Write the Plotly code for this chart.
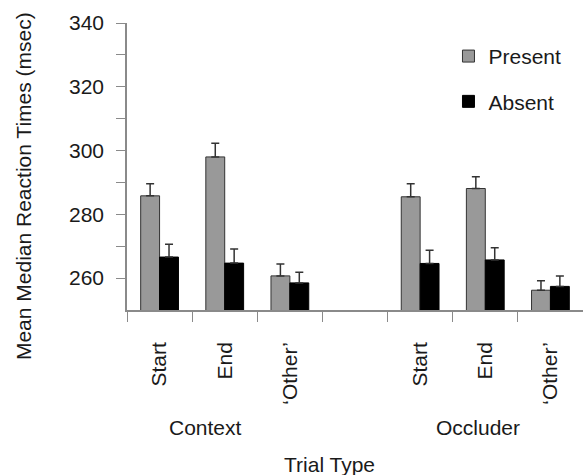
import plotly.graph_objects as go

# Categories (7 slots; the 4th is an empty spacer)
categories = ["Start", "End", "\u2018Other\u2019", " ", "Start\u200b", "End\u200b", "\u2018Other\u2019\u200b"]
tick_text = ["Start", "End", "\u2018Other\u2019", "", "Start", "End", "\u2018Other\u2019"]

present_x = ["Start", "End", "\u2018Other\u2019", "Start\u200b", "End\u200b", "\u2018Other\u2019\u200b"]
present_vals = [285.8, 298.0, 260.7, 285.5, 288.1, 256.2]
present_err = [3.8, 4.3, 3.7, 4.1, 3.7, 3.0]

absent_vals = [266.6, 264.7, 258.5, 264.6, 265.7, 257.4]
absent_err = [4.0, 4.4, 3.3, 4.1, 3.8, 3.3]

y_tickvals = [260, 270, 280, 290, 300, 310, 320, 330, 340]
y_ticktext = ["260", "", "280", "", "300", "", "320", "", "340"]

FONT = "Liberation Sans, Arial, Helvetica, sans-serif"
AXIS_COLOR = "#8a8a8a"
FS = 21

fig = go.Figure()
fig.add_trace(go.Bar(
    x=present_x, y=present_vals, name="Present", legendgroup="p",
    marker=dict(color="#999999", line=dict(color="#333333", width=1)),
    error_y=dict(type="data", symmetric=False, array=present_err,
                 arrayminus=[0] * len(present_err),
                 color="#333333", thickness=1.5, width=4),
))
fig.add_trace(go.Bar(
    x=present_x, y=absent_vals, name="Absent", legendgroup="a",
    marker=dict(color="#000000", line=dict(color="#000000", width=1)),
    error_y=dict(type="data", symmetric=False, array=absent_err,
                 arrayminus=[0] * len(absent_err),
                 color="#333333", thickness=1.5, width=4),
))

fig.update_layout(
    width=583, height=475,
    margin=dict(l=127, r=0, t=23, b=165),
    paper_bgcolor="white", plot_bgcolor="white",
    font=dict(family=FONT, size=FS, color="#1a1a1a"),
    barmode="group", bargap=0.42, bargroupgap=0,
    showlegend=True,
    legend=dict(x=0.705, y=0.955, xanchor="left", yanchor="top",
                font=dict(size=FS), tracegroupgap=15,
                bgcolor="rgba(0,0,0,0)"),
    xaxis=dict(
        type="category", categoryorder="array", categoryarray=categories,
        range=[-0.5, 6.5], tickmode="array", tickvals=categories, ticktext=tick_text,
        tickson="boundaries", ticks="outside", ticklen=10, tickcolor=AXIS_COLOR,
        tickangle=-90, ticklabelstandoff=22,
        showline=True, linecolor=AXIS_COLOR, linewidth=1.5,
        showgrid=False, zeroline=False, fixedrange=True,
    ),
    yaxis=dict(
        range=[250, 340], tickmode="array", tickvals=y_tickvals, ticktext=y_ticktext,
        ticks="outside", ticklen=9, tickcolor=AXIS_COLOR, ticklabelstandoff=8,
        showline=True, linecolor=AXIS_COLOR, linewidth=1.5,
        showgrid=False, zeroline=False,
    ),
    annotations=[
        dict(text="Context", x=0.173, y=-0.411, xref="paper", yref="paper",
             showarrow=False, xanchor="center", yanchor="middle", font=dict(size=FS)),
        dict(text="Occluder", x=0.770, y=-0.411, xref="paper", yref="paper",
             showarrow=False, xanchor="center", yanchor="middle", font=dict(size=FS)),
        dict(text="Trial Type", x=0.445, y=-0.540, xref="paper", yref="paper",
             showarrow=False, xanchor="center", yanchor="middle", font=dict(size=FS)),
        dict(text="Mean Median Reaction Times (msec)", x=-0.228, y=0.432,
             xref="paper", yref="paper", textangle=-90, showarrow=False,
             xanchor="center", yanchor="middle", font=dict(size=FS)),
    ],
)

fig.write_html("out.html")
